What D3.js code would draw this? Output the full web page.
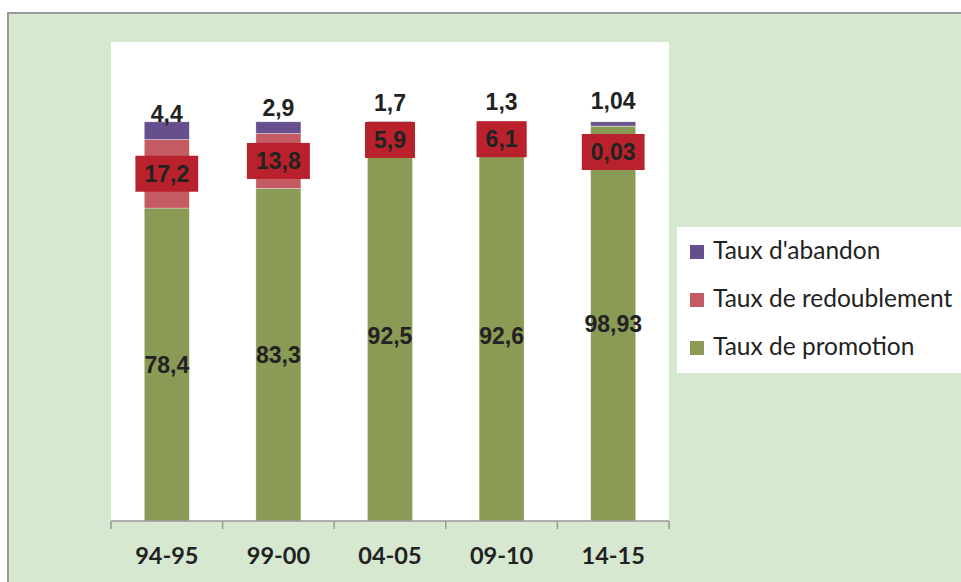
<!DOCTYPE html>
<html>
<head>
<meta charset="utf-8">
<script src="https://cdn.jsdelivr.net/npm/d3@7"></script>
<style>
  body { margin: 0; background: #fff; }
  svg { display: block; }
</style>
</head>
<body>
<svg></svg>
<script>
var width = 961;
var height = 582;

// data
var categories = ["94-95", "99-00", "04-05", "09-10", "14-15"];
var promotion = [78.4, 83.3, 92.5, 92.6, 98.93];
var redoublement = [17.2, 13.8, 5.9, 6.1, 0.03];
var abandon = [4.4, 2.9, 1.7, 1.3, 1.04];
var labels = {
  promotion: ["78,4", "83,3", "92,5", "92,6", "98,93"],
  redoublement: ["17,2", "13,8", "5,9", "6,1", "0,03"],
  abandon: ["4,4", "2,9", "1,7", "1,3", "1,04"]
};
var seriesNames = ["Taux d'abandon", "Taux de redoublement", "Taux de promotion"];

var colors = { promotion: "#8a9b55", redoublement: "#c45b62", abandon: "#664f8d" };

var plot = { left: 111, right: 669, top: 42, bottom: 521 };

var svg = d3.select("svg")
    .attr("width", width)
    .attr("height", height);

// background + frame
svg.append("rect")
    .attr("x", 8).attr("y", 13)
    .attr("width", width + 20).attr("height", height + 20)
    .attr("fill", "#d6e8d0")
    .attr("stroke", "#999").attr("stroke-width", 2);

svg.append("rect")
    .attr("x", plot.left).attr("y", plot.top)
    .attr("width", plot.right - plot.left)
    .attr("height", plot.bottom - plot.top)
    .attr("fill", "#fff");

var table = categories.map((c, i) => ({
  cat: c,
  promotion: promotion[i],
  redoublement: redoublement[i],
  abandon: abandon[i],
  i: i
}));

var keys = ["promotion", "redoublement", "abandon"];
var stacked = d3.stack().keys(keys)(table);

var xScale = d3.scaleBand()
    .domain(categories)
    .range([plot.left, plot.right])
    .paddingInner(0)
    .paddingOuter(0);

var yScale = d3.scaleLinear()
    .domain([0, 120])
    .range([plot.bottom, plot.top]);

var barW = 45;

svg.append("g")
  .selectAll("g")
  .data(stacked)
  .enter()
  .append("g")
    .attr("fill", d => colors[d.key])
  .selectAll("rect")
  .data(d => d)
  .enter()
  .append("rect")
    .attr("x", d => xScale(d.data.cat) + xScale.bandwidth() / 2 - barW / 2)
    .attr("y", d => yScale(d[1]))
    .attr("width", barW)
    .attr("height", d => yScale(d[0]) - yScale(d[1]))
    .attr("stroke", "rgba(255,255,255,0.5)")
    .attr("stroke-width", 0.6);

// x axis, ticks between categories like excel
var axis = svg.append("g");
axis.append("line")
    .attr("x1", plot.left).attr("x2", plot.right)
    .attr("y1", plot.bottom).attr("y2", plot.bottom)
    .attr("stroke", "#999").attr("stroke-width", 1.5);

axis.selectAll(".tick")
  .data(categories.concat([null]))
  .enter()
  .append("line")
    .attr("x1", (d, i) => plot.left + i * xScale.bandwidth())
    .attr("x2", (d, i) => plot.left + i * xScale.bandwidth())
    .attr("y1", plot.bottom).attr("y2", plot.bottom + 8)
    .attr("stroke", "#999").attr("stroke-width", 1.5);

axis.selectAll("text")
  .data(categories)
  .enter()
  .append("text")
    .attr("x", d => xScale(d) + xScale.bandwidth() / 2)
    .attr("y", 564)
    .attr("text-anchor", "middle")
    .attr("font-family", "Lato, sans-serif")
    .attr("font-weight", "bold")
    .attr("font-size", "23.5px")
    .attr("fill", "#222")
    .text(d => d);

var labelFont = "'Liberation Sans', Arial, sans-serif";
var cx = d => xScale(d.data.cat) + xScale.bandwidth() / 2;

// promotion labels (centre of segment)
svg.append("g")
  .selectAll("text")
  .data(stacked[0])
  .enter()
  .append("text")
    .attr("x", cx)
    .attr("y", d => (yScale(d[0]) + yScale(d[1])) / 2)
    .attr("dy", "0.35em")
    .attr("text-anchor", "middle")
    .attr("font-family", labelFont)
    .attr("font-weight", "bold")
    .attr("font-size", "23px")
    .attr("fill", "#222")
    .text(d => labels.promotion[d.data.i]);

// redoublement labels in red boxes
var redY = d => {
  var h = yScale(d[0]) - yScale(d[1]);
  var mid = (yScale(d[0]) + yScale(d[1])) / 2;
  return h < 5 ? yScale(d[1]) + 26 : mid;
};

var redG = svg.append("g")
  .selectAll("g")
  .data(stacked[1])
  .enter()
  .append("g")
    .attr("transform", d => "translate(" + cx(d) + "," + redY(d) + ")");

redG.append("text")
    .attr("dy", "0.35em")
    .attr("text-anchor", "middle")
    .attr("font-family", labelFont)
    .attr("font-weight", "bold")
    .attr("font-size", "23px")
    .attr("fill", "#222")
    .text(d => labels.redoublement[d.data.i]);

redG.each(function() {
  var g = d3.select(this);
  var bb = g.select("text").node().getBBox();
  g.insert("rect", "text")
      .attr("x", -bb.width / 2 - 9)
      .attr("y", -18)
      .attr("width", bb.width + 18)
      .attr("height", 36)
      .attr("fill", "#b9222c");
});

// abandon labels sit above the segment base
svg.append("g")
  .selectAll("text")
  .data(stacked[2])
  .enter()
  .append("text")
    .attr("x", cx)
    .attr("y", d => yScale(d[0]) - 25.5)
    .attr("dy", "0.35em")
    .attr("text-anchor", "middle")
    .attr("font-family", labelFont)
    .attr("font-weight", "bold")
    .attr("font-size", "23px")
    .attr("fill", "#222")
    .text(d => labels.abandon[d.data.i]);

// legend
var legend = svg.append("g");
legend.append("rect")
    .attr("x", 677).attr("y", 227)
    .attr("width", 300).attr("height", 146)
    .attr("fill", "#fff");

var legendKeys = ["abandon", "redoublement", "promotion"];
var item = legend.selectAll(".item")
  .data(seriesNames)
  .enter()
  .append("g")
    .attr("transform", (d, i) => "translate(690," + (245 + i * 48) + ")");

item.append("rect")
    .attr("width", 14).attr("height", 14)
    .attr("fill", (d, i) => colors[legendKeys[i]]);

item.append("text")
    .attr("x", 23)
    .attr("y", 14)
    .attr("font-family", "Lato, sans-serif")
    .attr("font-size", "24.5px")
    .attr("fill", "#222")
    .text(d => d);
</script>
</body>
</html>
